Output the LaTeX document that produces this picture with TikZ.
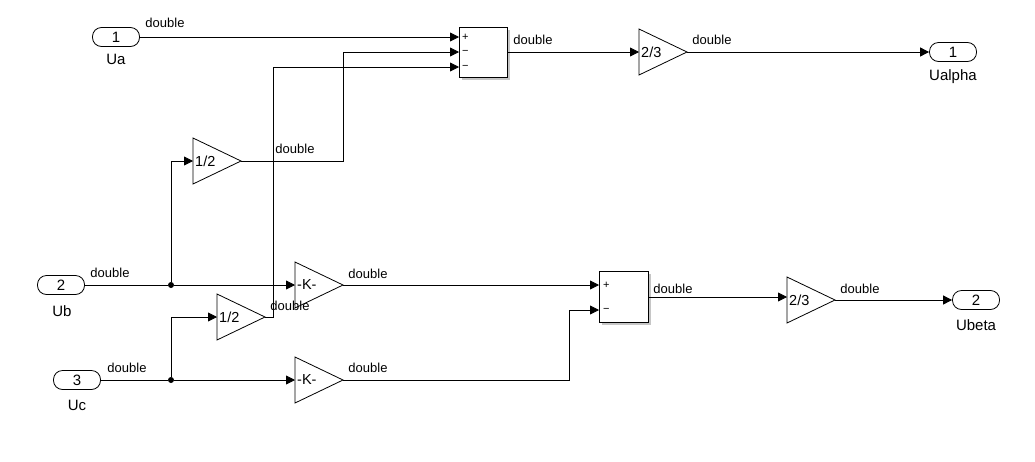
\documentclass[tikz,border=0pt]{standalone}
\usepackage{fontspec}
\setmainfont{Liberation Sans}
\usetikzlibrary{arrows.meta}
\begin{document}
\begin{tikzpicture}[x=1pt,y=-1pt,
  lbl/.style={font=\fontsize{13}{13}\selectfont,inner sep=0pt},
  sig/.style={draw,line width=0.8pt,-{Triangle[length=9pt,width=9pt]}},
  wire/.style={draw,line width=0.8pt},
  port/.style={draw,line width=0.8pt,rounded corners=9pt,minimum width=47pt,minimum height=19pt,inner sep=0pt,font=\fontsize{15}{15}\selectfont},
  sumb/.style={draw,line width=0.8pt,fill=white,minimum width=48pt,inner sep=0pt},
  pm/.style={font=\fontsize{11}{11}\selectfont,inner sep=0pt},
  dot/.style={circle,fill,inner sep=0pt,minimum size=6pt}]
\useasboundingbox (0,0) rectangle (1035,461);
\newcommand{\gainblk}[4]{% name, x left, y center, text
  \draw[line width=0.8pt] (#2,#3-23) -- (#2+48,#3) -- (#2,#3+23) -- cycle;
  \coordinate (#1in) at (#2,#3);
  \coordinate (#1out) at (#2+48,#3);
  \node[lbl,font=\fontsize{14.5}{14.5}\selectfont,anchor=west] (#1t) at (#2+2,#3) {#4};}
% inports/outports
\node[port] (ua) at (116,37) {1};
\node[lbl,font=\fontsize{15}{15}\selectfont] (uat) at (116,59) {Ua};
\node[port] (ub) at (61,285) {2};
\node[lbl,font=\fontsize{15}{15}\selectfont] (ubt) at (62,311) {Ub};
\node[port] (uc) at (77,380) {3};
\node[lbl,font=\fontsize{15}{15}\selectfont] (uct) at (77,405) {Uc};
\node[port] (ual) at (953,52) {1};
\node[lbl,font=\fontsize{15}{15}\selectfont] (ualt) at (953,77) {Ualpha};
\node[port] (ube) at (976,300) {2};
\node[lbl,font=\fontsize{15}{15}\selectfont] (ubet) at (976,325) {Ubeta};
% sums
\fill[gray!45] (462,30) rectangle (510,80);
\node[sumb,minimum height=50pt] (s1) at (483,52) {};
\fill[gray!45] (602,274) rectangle (651,325);
\node[sumb,minimum height=51pt,minimum width=49pt] (s2) at (623.5,297) {};
\node[pm,anchor=west] at (462,37) {+};
\node[pm,anchor=west] at (462,52) {\textminus};
\node[pm,anchor=west] at (462,67) {\textminus};
\node[pm,anchor=west] at (603,285) {+};
\node[pm,anchor=west] at (603,310) {\textminus};
\coordinate (s1a) at (459,37);\coordinate (s1b) at (459,52);\coordinate (s1c) at (459,67);
\coordinate (s2a) at (599,285);\coordinate (s2b) at (599,310);
% gains
\gainblk{ga}{639}{52}{2/3}
\gainblk{gh}{193}{161}{1/2}
\gainblk{gk}{295}{285}{-K-}
\gainblk{gb}{787}{300}{2/3}
\gainblk{gl}{217}{317}{1/2}
\gainblk{gm}{295}{380}{-K-}
\node[dot] (d1) at (171,285) {};
\node[dot] (d2) at (171,380) {};
% wires
\path[sig] (ua.east) -- (s1a);
\path[sig] (s1.east) -- (gain);
\path[sig] (gaout) -- (ual.west);
\path[sig] (ghout) -| (343,52) -- (s1b);
\path[sig] (glout) -| (273,67) -- (s1c);
\path[wire] (ub.east) -- (d1);
\path[sig] (d1) -- (gkin);
\path[sig] (d1) |- (ghin);
\path[wire] (uc.east) -- (d2);
\path[sig] (d2) -- (gmin);
\path[sig] (d2) |- (glin);
\path[sig] (gkout) -- (s2a);
\path[sig] (gmout) -| (569,310) -- (s2b);
\path[sig] (s2.east) -- (787,297);
\path[sig] (gbout) -- (ube.west);
% labels
\node[lbl] at (165,23) {double};
\node[lbl] at (533,40) {double};
\node[lbl] at (712,40) {double};
\node[lbl] at (295,149) {double};
\node[lbl] at (110,273) {double};
\node[lbl] at (368,274) {double};
\node[lbl] at (673,289) {double};
\node[lbl] at (860,289) {double};
\node[lbl] at (290,306) {double};
\node[lbl] at (127,368) {double};
\node[lbl] at (368,368) {double};
\end{tikzpicture}
\end{document}
